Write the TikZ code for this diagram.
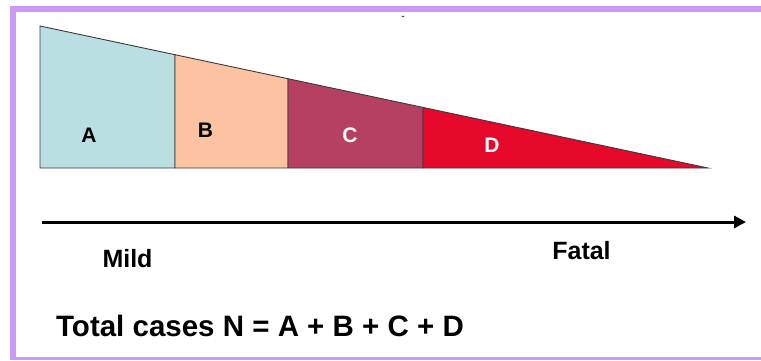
\documentclass[tikz,border=0pt]{standalone}
\usepackage{fontspec}
\setmainfont{Liberation Sans}
\usetikzlibrary{arrows.meta}
\definecolor{FrameLilac}{HTML}{CC99F8}
\definecolor{MildBlue}{HTML}{BADFE2}
\definecolor{ModPeach}{HTML}{FBC3A2}
\definecolor{SevereRose}{HTML}{B54062}
\definecolor{FatalRed}{HTML}{E6082B}
\definecolor{EdgeGrey}{HTML}{3A3A3A}

\begin{document}
\begin{tikzpicture}[
    x=1pt,y=-1pt,
    band/.style={draw=EdgeGrey,line width=0.9pt,line join=miter},
    lbl/.style={inner sep=0pt,font=\fontsize{21}{25}\selectfont\bfseries},
    axis/.style={-{Triangle[length=12pt,width=12pt]},line width=3pt,black},
    word/.style={inner sep=0pt,font=\fontsize{25}{29}\selectfont\bfseries}
  ]
    \useasboundingbox (0,0) rectangle (761,360);
    \fill[white] (0,0) rectangle (761,360);
    % frame
    \fill[FrameLilac] (10,6) rectangle (761,12);
    \fill[FrameLilac] (10,6) rectangle (16,360);
    \fill[FrameLilac] (10,357) rectangle (761,360);

    % wedge corners
    \coordinate (tl) at (40,26);
    \coordinate (bl) at (40,168);
    \coordinate (tip) at (708,168);
    \coordinate (ab) at (175,54.7);
    \coordinate (bc) at (288,78.7);
    \coordinate (cd) at (423,107.4);

    \filldraw[band,fill=MildBlue] (tl) -- (ab) -- (ab |- bl) -- (bl) -- cycle;
    \filldraw[band,fill=ModPeach] (ab) -- (bc) -- (bc |- bl) -- (ab |- bl) -- cycle;
    \filldraw[band,fill=SevereRose] (bc) -- (cd) -- (cd |- bl) -- (bc |- bl) -- cycle;
    \filldraw[band,fill=FatalRed] (cd) -- (tip) -- (cd |- bl) -- cycle;

    \node[lbl] (labA) at (89,135.5) {A};
    \node[lbl] (labB) at (205.5,130.5) {B};
    \node[lbl,text=white] (labC) at (350,135) {C};
    \node[lbl,text=white] (labD) at (492,145.5) {D};

    \node[inner sep=0pt,font=\fontsize{10}{11}\selectfont] (mark) at (403,20) {ˇ};

    % severity axis
    \coordinate (axstart) at (42,222);
    \coordinate (axend) at (746,222);
    \draw[axis] (axstart) -- (axend);

    \node[word] (mild) at (127.5,258.5) {Mild};
    \node[word] (fatal) at (581.5,250.5) {Fatal};

    \node[inner sep=0pt,font=\fontsize{29.5}{34}\selectfont\bfseries] (total) at (260,326) {Total cases N = A + B + C + D};
\end{tikzpicture}
\end{document}
